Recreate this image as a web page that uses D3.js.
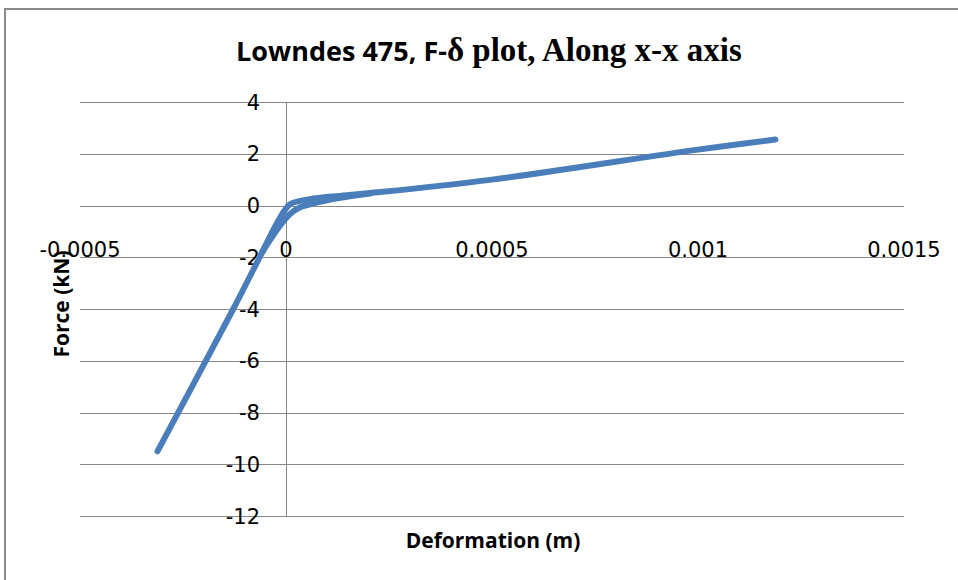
<meta charset="utf-8" />
<script src="https://d3js.org/d3.v7.min.js"></script>
<style>
  body { margin: 0; background: #fff; }
  svg text { fill: #000; }
</style>
<div id="chart"></div>
<script>
  // F-delta readings (loading branch), deformation in m, force in kN
  const deformation = [-0.000312, -0.000128, -0.0000624, -0.000026, -0.000004, 0.0000104,
    0.0000347, 0.0000833, 0.000132, 0.000205, 0.0005, 0.001, 0.001188];
  const force = [-9.5, -4, -1.95, -0.8, -0.2, 0.06, 0.18, 0.3, 0.37, 0.48, 1.0, 2.16, 2.55];

  // unloading / reloading loop near the origin
  const loopDeformation = [-0.0000575, -0.0000187, 0.0000104, 0.0000347, 0.0000711, 0.0001075, 0.000144, 0.000205];
  const loopForce = [-1.8, -0.87, -0.32, -0.07, 0.1, 0.23, 0.33, 0.46];

  const xTicks = [-0.0005, 0, 0.0005, 0.001, 0.0015];
  const yTicks = [4, 2, 0, -2, -4, -6, -8, -10, -12];

  const width = 958, height = 580;
  const plot = { left: 80, right: 904, top: 102, bottom: 516 };

  const svg = d3.select('#chart').append('svg')
    .attr('width', width)
    .attr('height', height);

  // chart frame
  svg.append('rect')
    .attr('x', 5).attr('y', 9)
    .attr('width', 1000).attr('height', 620)
    .attr('fill', 'none')
    .attr('stroke', '#8a8a8a')
    .attr('stroke-width', 2);

  const x = d3.scaleLinear().domain([-0.0005, 0.0015]).range([plot.left, plot.right]);
  const y = d3.scaleLinear().domain([-12, 4]).range([plot.bottom, plot.top]);

  // horizontal gridlines
  svg.append('g')
    .selectAll('line')
    .data(yTicks)
    .join('line')
    .attr('x1', plot.left).attr('x2', plot.right)
    .attr('y1', d => Math.round(y(d)) + 0.5).attr('y2', d => Math.round(y(d)) + 0.5)
    .attr('stroke', '#878787')
    .attr('stroke-width', 1);

  // vertical axis at x = 0
  svg.append('line')
    .attr('x1', Math.round(x(0)) + 0.5).attr('x2', Math.round(x(0)) + 0.5)
    .attr('y1', plot.top).attr('y2', plot.bottom)
    .attr('stroke', '#878787');

  // y tick labels
  svg.append('g')
    .selectAll('text')
    .data(yTicks)
    .join('text')
    .attr('x', x(0) - 26)
    .attr('y', d => y(d))
    .attr('dy', '0.36em')
    .attr('text-anchor', 'end')
    .style('font-family', 'DejaVu Sans')
    .style('font-size', '21px')
    .text(d => d);

  // x tick labels, sitting just below the -2 line as Excel placed them
  svg.append('g')
    .selectAll('text')
    .data(xTicks)
    .join('text')
    .attr('x', d => x(d))
    .attr('y', 249)
    .attr('dy', '0.36em')
    .attr('text-anchor', 'middle')
    .style('font-family', 'DejaVu Sans')
    .style('font-size', '21px')
    .text(d => d);

  const line = d3.line()
    .x(d => x(d[0]))
    .y(d => y(d[1]))
    .curve(d3.curveCatmullRom.alpha(0.5));

  const mainPts = deformation.map((d, i) => [d, force[i]]);
  const loopPts = loopDeformation.map((d, i) => [d, loopForce[i]]);

  [mainPts, loopPts].forEach(pts => {
    svg.append('path')
      .datum(pts)
      .attr('d', line)
      .attr('fill', 'none')
      .attr('stroke', '#4a7ebb')
      .attr('stroke-width', 6)
      .attr('stroke-linecap', 'round')
      .attr('stroke-linejoin', 'round');
  });

  // title: mixed fonts like the original
  const title = svg.append('text')
    .attr('x', 489)
    .attr('y', 61)
    .attr('text-anchor', 'middle')
    .style('font-weight', 'bold');
  title.append('tspan')
    .style('font-family', 'Open Sans')
    .style('font-size', '27px')
    .text('Lowndes 475, F-');
  title.append('tspan')
    .style('font-family', 'Liberation Serif')
    .style('font-size', '33px')
    .text('δ plot, Along x-x axis');

  // axis titles
  svg.append('text')
    .attr('x', 493)
    .attr('y', 540)
    .attr('dy', '0.36em')
    .attr('text-anchor', 'middle')
    .style('font-family', 'Open Sans')
    .style('font-weight', 'bold')
    .style('font-size', '21px')
    .text('Deformation (m)');

  svg.append('text')
    .attr('transform', 'translate(61,304) rotate(-90)')
    .attr('dy', '0.36em')
    .attr('text-anchor', 'middle')
    .style('font-family', 'Open Sans')
    .style('font-weight', 'bold')
    .style('font-size', '21px')
    .text('Force (kN)');
</script>
